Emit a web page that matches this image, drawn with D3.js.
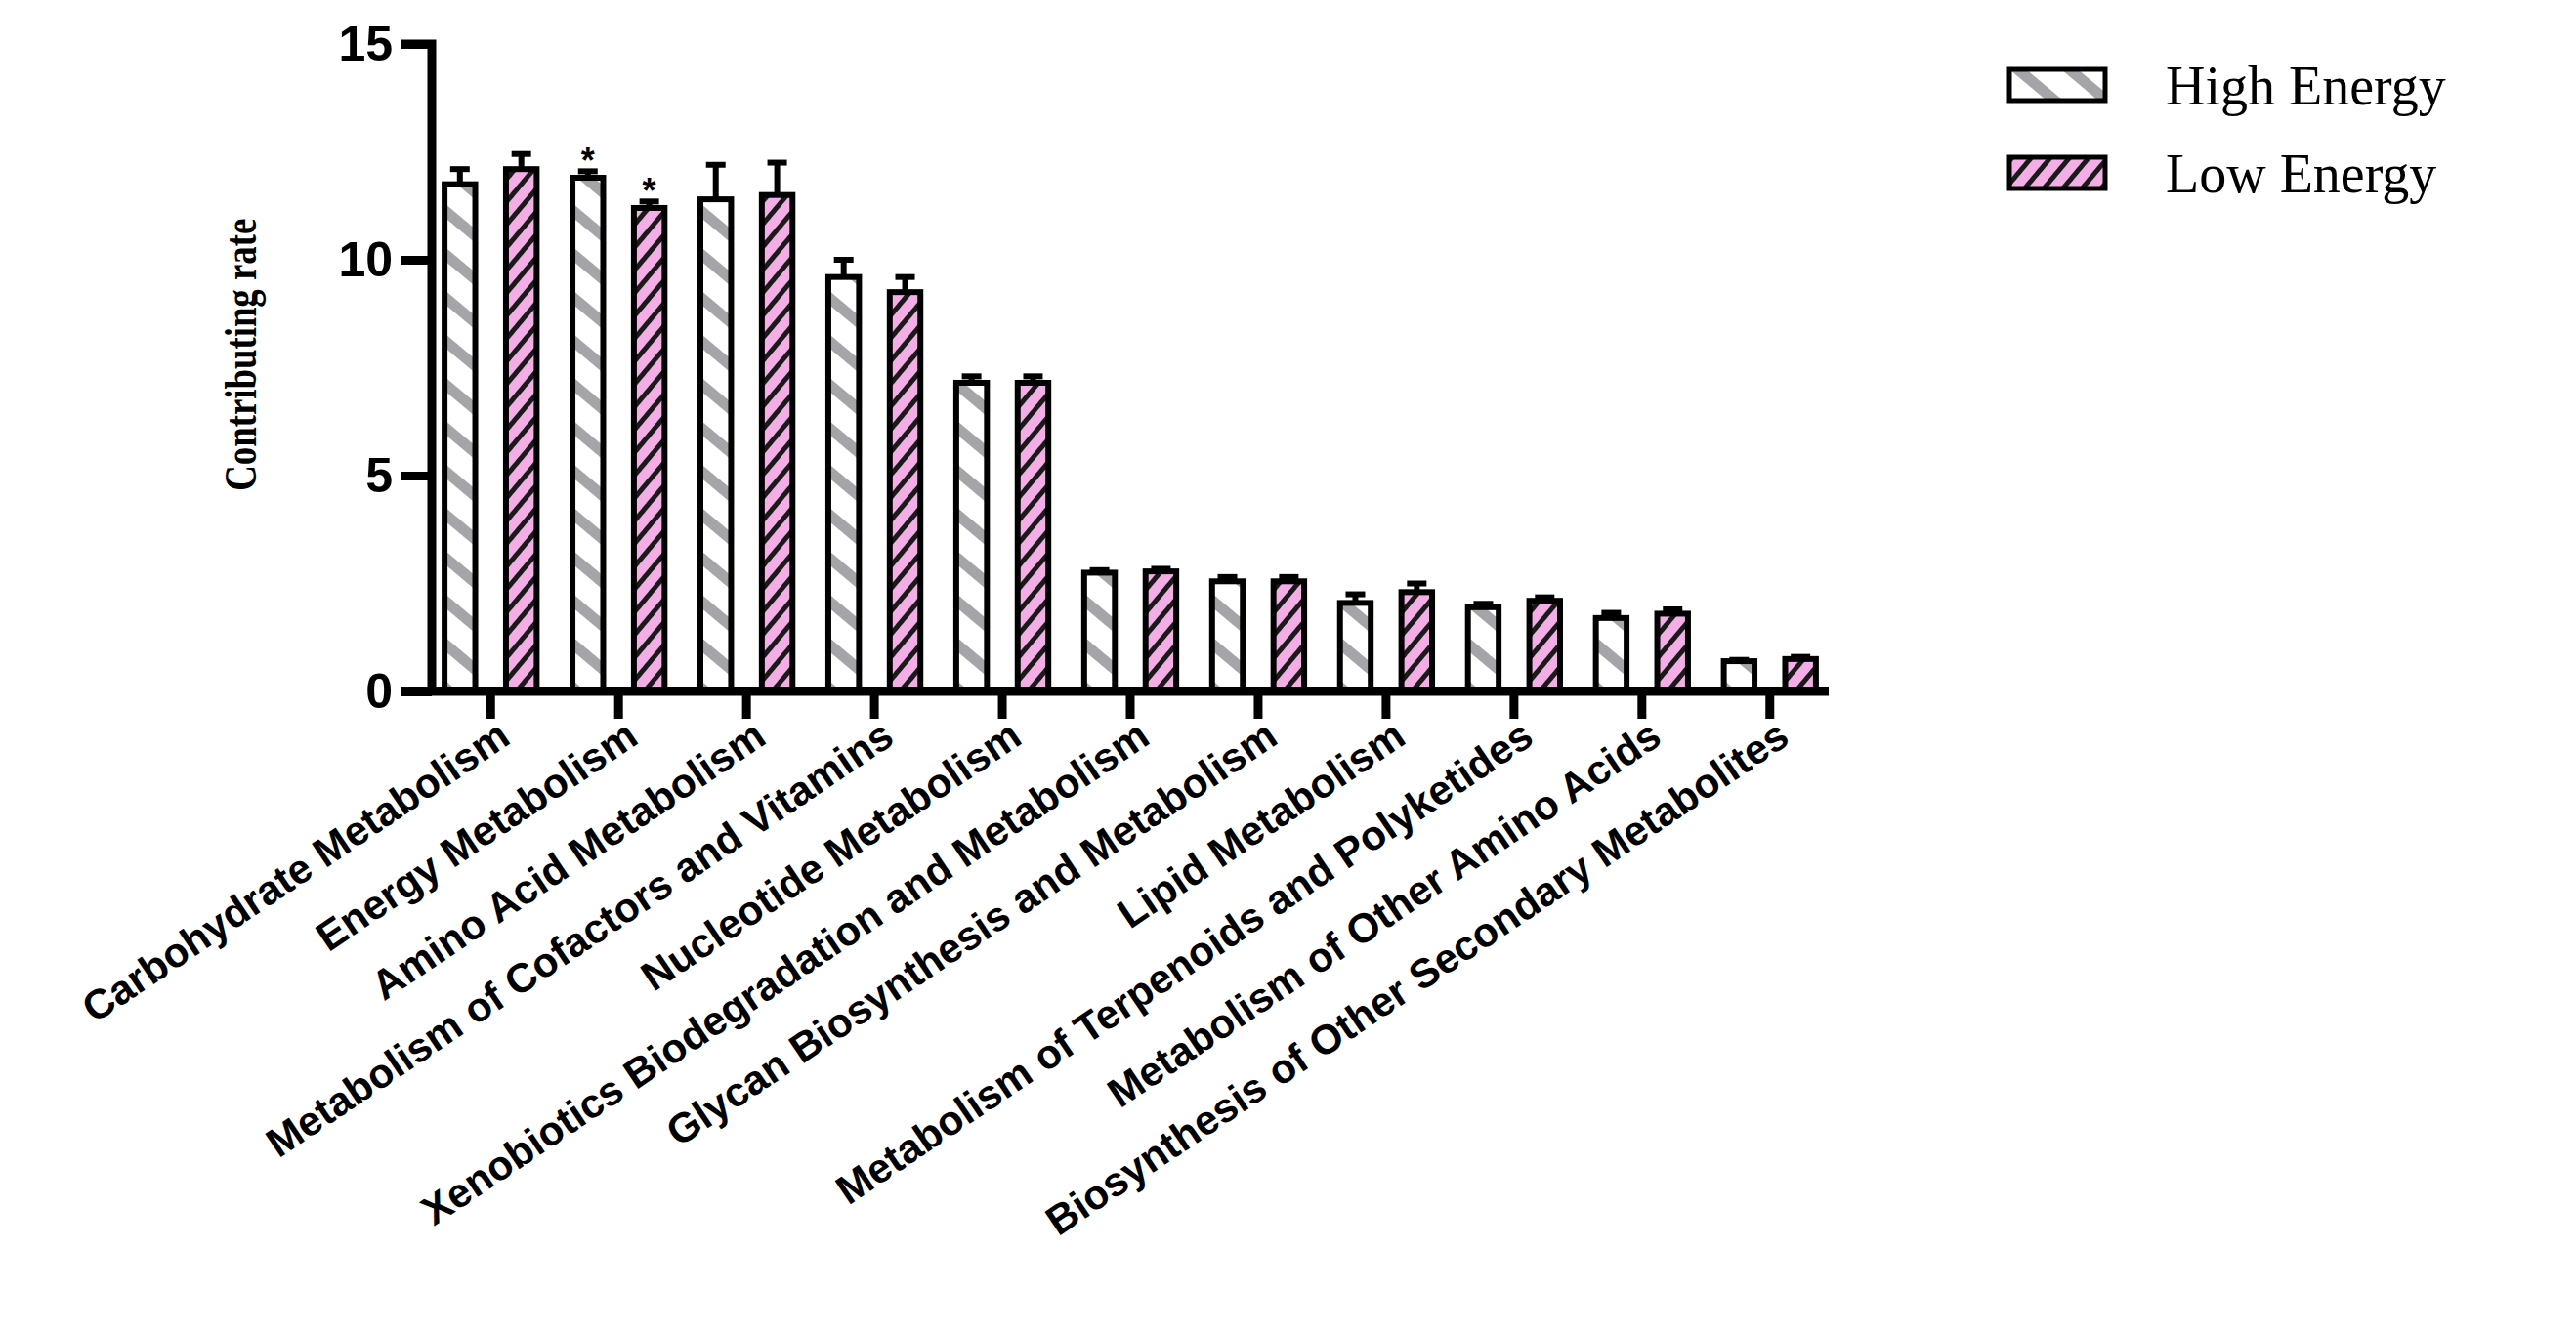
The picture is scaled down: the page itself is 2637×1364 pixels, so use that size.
<!DOCTYPE html>
<html>
<head>
<meta charset="utf-8">
<script src="https://cdn.jsdelivr.net/npm/d3@7"></script>
<style>
  body { margin: 0; background: #fff; }
</style>
</head>
<body>
<div class="canvas"></div>
<script>
const categories = ['Carbohydrate Metabolism', 'Energy Metabolism', 'Amino Acid Metabolism',
    'Metabolism of Cofactors and Vitamins', 'Nucleotide Metabolism', 'Xenobiotics Biodegradation and Metabolism',
    'Glycan Biosynthesis and Metabolism', 'Lipid Metabolism', 'Metabolism of Terpenoids and Polyketides',
    'Metabolism of Other Amino Acids', 'Biosynthesis of Other Secondary Metabolites']
const highValues = [11.75, 11.9, 11.4, 9.6, 7.15, 2.75, 2.55, 2.05, 1.95, 1.7, 0.7]
const highErrors = [0.35, 0.15, 0.8, 0.4, 0.15, 0.06, 0.1, 0.2, 0.08, 0.12, 0.03]
const lowValues = [12.1, 11.2, 11.5, 9.25, 7.15, 2.78, 2.55, 2.3, 2.1, 1.8, 0.75]
const lowErrors = [0.35, 0.15, 0.75, 0.35, 0.15, 0.06, 0.1, 0.2, 0.08, 0.1, 0.05]
const starred = [[false, false], [true, true], [false, false], [false, false], [false, false], [false, false],
    [false, false], [false, false], [false, false], [false, false], [false, false]]
const yTicks = [0, 5, 10, 15]
const seriesNames = ['High Energy', 'Low Energy']

const width = 2637, height = 1364
const margin = {top: 45, left: 442, right: 765, bottom: 656}
const graphWidth = width - margin.left - margin.right
const graphHeight = height - margin.top - margin.bottom

const svg = d3.select('.canvas').append('svg')
    .attr('width', width).attr('height', height)

// hatch patterns
const defs = svg.append('defs')
const hp = defs.append('pattern').attr('id', 'hatchHigh').attr('patternUnits', 'userSpaceOnUse')
    .attr('width', 34).attr('height', 34).attr('patternTransform', 'rotate(-50)')
hp.append('rect').attr('width', 34).attr('height', 34).attr('fill', '#fff')
hp.append('rect').attr('width', 11).attr('height', 34).attr('fill', '#a5a5a9')
const lp = defs.append('pattern').attr('id', 'hatchLow').attr('patternUnits', 'userSpaceOnUse')
    .attr('width', 15).attr('height', 15).attr('patternTransform', 'rotate(40)')
lp.append('rect').attr('width', 15).attr('height', 15).attr('fill', '#f4aee6')
lp.append('rect').attr('width', 5).attr('height', 15).attr('fill', '#1a1a1a')
const fills = ['url(#hatchHigh)', 'url(#hatchLow)']

const graph = svg.append('g').attr('transform', `translate(${margin.left}, ${margin.top})`)

const y = d3.scaleLinear().domain([0, 15]).range([graphHeight, 0])
const x = d3.scaleBand().domain(categories).range([0, graphWidth]).paddingInner(0.28).paddingOuter(0.1)
const x1 = d3.scaleBand().domain([0, 1]).range([0, x.bandwidth()]).paddingInner(0.5)

// bars
const groups = graph.selectAll('g.grp').data(categories).enter().append('g')
    .attr('transform', d => `translate(${x(d)},0)`)

const rows = categories.map((c, i) => [
    {s: 0, v: highValues[i], e: highErrors[i], star: starred[i][0]},
    {s: 1, v: lowValues[i], e: lowErrors[i], star: starred[i][1]}
])

groups.each(function (c, i) {
    const g = d3.select(this)
    const items = g.selectAll('g.bar').data(rows[i]).enter().append('g')
    // error bars
    items.append('line')
        .attr('x1', d => x1(d.s) + x1.bandwidth() / 2).attr('x2', d => x1(d.s) + x1.bandwidth() / 2)
        .attr('y1', d => y(d.v)).attr('y2', d => y(d.v + d.e))
        .attr('stroke', '#000').attr('stroke-width', 6)
    items.append('line')
        .attr('x1', d => x1(d.s) + x1.bandwidth() / 2 - 10).attr('x2', d => x1(d.s) + x1.bandwidth() / 2 + 10)
        .attr('y1', d => y(d.v + d.e)).attr('y2', d => y(d.v + d.e))
        .attr('stroke', '#000').attr('stroke-width', 6)
    items.append('rect')
        .attr('x', d => x1(d.s)).attr('width', x1.bandwidth())
        .attr('y', d => y(d.v)).attr('height', d => graphHeight - y(d.v))
        .attr('fill', d => fills[d.s]).attr('stroke', '#000').attr('stroke-width', 6)
    items.filter(d => d.star).append('text')
        .attr('x', d => x1(d.s) + x1.bandwidth() / 2).attr('y', d => y(d.v + d.e) + 2)
        .attr('text-anchor', 'middle').attr('font-family', 'Liberation Sans, Arial').attr('font-weight', 'bold')
        .attr('font-size', 36).text('*')
})

// axes
const yAxis = d3.axisLeft(y).tickValues(yTicks).tickSize(32).tickPadding(8)
const yAxisGroup = graph.append('g').call(yAxis)
yAxisGroup.select('.domain').attr('stroke-width', 9).attr('d', `M0,${graphHeight}V0H-32`)
yAxisGroup.selectAll('line').attr('stroke-width', 9)
yAxisGroup.selectAll('text').attr('font-family', 'Liberation Sans, Arial').attr('font-weight', 'bold')
    .attr('font-size', 50).attr('fill', '#000')

const xAxis = d3.axisBottom(x).tickSize(28).tickSizeOuter(0)
const xAxisGroup = graph.append('g').attr('transform', `translate(0, ${graphHeight})`).call(xAxis)
xAxisGroup.select('.domain').attr('stroke-width', 9).attr('d', `M-4,0H${graphWidth}`)
xAxisGroup.selectAll('line').attr('stroke-width', 9)
xAxisGroup.selectAll('text')
    .attr('font-family', 'Liberation Sans, Arial').attr('font-weight', 'bold').attr('font-size', 42)
    .attr('fill', '#000').attr('text-anchor', 'end')
    .attr('transform', 'translate(14,40) rotate(-34)').attr('dy', '0.35em').attr('y', 0)

// y label
svg.append('text')
    .attr('transform', `translate(262, ${margin.top + graphHeight * 0.48}) rotate(-90) scale(0.8,1)`)
    .attr('text-anchor', 'middle').attr('font-family', 'Liberation Serif, Times New Roman')
    .attr('font-weight', 'bold').attr('font-size', 46).text('Contributing rate')

// legend
const legend = svg.append('g').attr('transform', 'translate(2057, 71)')
const li = legend.selectAll('g').data(seriesNames).enter().append('g')
    .attr('transform', (d, i) => `translate(0, ${i * 90})`)
li.append('rect').attr('width', 98).attr('height', 32).attr('fill', (d, i) => fills[i])
    .attr('stroke', '#000').attr('stroke-width', 5)
li.append('text').attr('x', 160).attr('y', 16).attr('dy', '0.35em')
    .attr('font-family', 'Liberation Serif, Times New Roman').attr('font-size', 56).text(d => d)
</script>
</body>
</html>
